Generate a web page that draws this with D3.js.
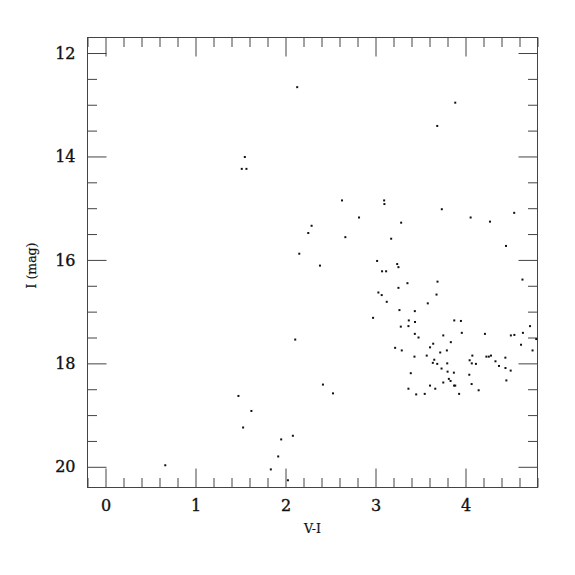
<!DOCTYPE html>
<html>
<head>
<meta charset="utf-8">
<script src="https://cdn.jsdelivr.net/npm/d3@7"></script>
<style>
  body { margin: 0; background: #fff; }
  svg { display: block; }
  .axis path { display: none; }
  .axis line { stroke: #444; stroke-width: 1; }
  .axis text { font-family: "DejaVu Serif", serif; font-size: 16px; fill: #111; stroke: #111; stroke-width: 0.35px; }
  .title { font-family: "DejaVu Serif", serif; font-size: 12.5px; fill: #111; stroke: #111; stroke-width: 0.2px; }
</style>
</head>
<body>
<div id="chart"></div>
<script>
const w = 450,
      h = 450;
const margin = {top: 37.5, right: 37.5, bottom: 87.5, left: 87.5};

// V-I colour and I magnitude of each star
const colorVI = [2.13, 3.886, 3.686, 1.548, 1.514, 1.566, 2.628, 3.096, 3.099, 3.737,
  4.541, 2.817, 4.057, 3.285, 4.272, 2.29, 2.253, 2.665, 3.174, 4.45,
  2.153, 3.018, 3.241, 3.255, 2.383, 3.073, 3.118, 4.633, 3.355, 3.689,
  3.255, 3.678, 3.032, 3.069, 3.125, 3.581, 3.266, 3.437, 2.973, 3.37,
  3.439, 3.281, 3.366, 3.437, 3.478, 2.108, 3.218, 3.292, 3.606, 3.433,
  3.569, 3.392, 3.606, 3.366, 3.452, 3.547, 2.416, 2.528, 3.875, 3.949,
  4.717, 3.753, 3.959, 4.216, 4.504, 4.543, 4.638, 4.786, 3.641, 3.837,
  4.617, 3.719, 3.793, 4.076, 4.232, 4.259, 4.283, 4.443, 4.745, 3.653,
  4.046, 4.333, 3.637, 3.686, 3.797, 4.07, 4.116, 4.372, 4.444, 3.734,
  4.502, 3.801, 3.871, 4.042, 4.454, 3.815, 3.834, 3.753, 4.068, 3.873,
  3.886, 3.664, 4.146, 3.929, 1.477, 1.621, 1.529, 2.082, 1.952, 1.919,
  1.837, 2.027, 0.664];
const magI = [12.66, 12.96, 13.41, 14.01, 14.24, 14.24, 14.85, 14.85, 14.92, 15.02,
  15.09, 15.18, 15.18, 15.28, 15.26, 15.34, 15.48, 15.56, 15.59, 15.73,
  15.88, 16.02, 16.08, 16.14, 16.11, 16.22, 16.22, 16.38, 16.45, 16.42,
  16.54, 16.67, 16.63, 16.68, 16.81, 16.84, 16.97, 16.99, 17.12, 17.17,
  17.2, 17.29, 17.28, 17.43, 17.5, 17.54, 17.7, 17.75, 17.69, 17.87,
  17.85, 18.19, 18.43, 18.49, 18.6, 18.59, 18.41, 18.58, 17.17, 17.18,
  17.28, 17.46, 17.41, 17.43, 17.46, 17.45, 17.41, 17.53, 17.62, 17.59,
  17.64, 17.79, 17.75, 17.85, 17.87, 17.87, 17.85, 17.89, 17.75, 17.93,
  17.94, 17.96, 17.99, 18.01, 18.0, 18.0, 18.01, 18.05, 18.09, 18.1,
  18.14, 18.16, 18.18, 18.22, 18.33, 18.3, 18.34, 18.37, 18.4, 18.43,
  18.43, 18.49, 18.52, 18.59, 18.63, 18.92, 19.24, 19.4, 19.47, 19.8,
  20.05, 20.26, 19.97];

const xMajor = [0, 1, 2, 3, 4];
const yMajor = [12, 14, 16, 18, 20];

const svg = d3.select("#chart")
  .append("svg")
  .attr("width", w + margin.left + margin.right)
  .attr("height", h + margin.top + margin.bottom)
  .append("g")
  .attr("transform", "translate(" + margin.left + "," + margin.top + ")");

let x = d3.scaleLinear().domain([-0.2, 4.8]).range([0, w]);
let y = d3.scaleLinear().domain([11.7, 20.4]).range([0, h]);

let xMinor = d3.range(-0.2, 4.81, 0.2).map(d => +d.toFixed(1)).filter(d => !xMajor.includes(d));
let yMinor = d3.range(12, 20.41, 0.5).filter(d => !yMajor.includes(d));

// major + minor ticks on all four sides, pointing inward
function addAxis(axisFn, scale, values, size, transform, labels) {
  let ax = axisFn(scale).tickValues(values).tickSizeInner(-size).tickSizeOuter(0)
    .tickPadding(labels ? 12 : 0)
    .tickFormat(labels ? d3.format("d") : "");
  svg.append("g").attr("class", "axis").attr("transform", transform).call(ax);
}

addAxis(d3.axisBottom, x, xMajor, 19, "translate(0," + h + ")", true);
addAxis(d3.axisBottom, x, xMinor, 9.5, "translate(0," + h + ")", false);
addAxis(d3.axisTop, x, xMajor, 19, "translate(0,0)", false);
addAxis(d3.axisTop, x, xMinor, 9.5, "translate(0,0)", false);
addAxis(d3.axisLeft, y, yMajor, 19, "translate(0,0)", true);
addAxis(d3.axisLeft, y, yMinor, 9.5, "translate(0,0)", false);
addAxis(d3.axisRight, y, yMajor, 19, "translate(" + w + ",0)", false);
addAxis(d3.axisRight, y, yMinor, 9.5, "translate(" + w + ",0)", false);

svg.append("rect")
  .attr("x", 0).attr("y", 0)
  .attr("width", w).attr("height", h)
  .style("fill", "none")
  .style("stroke", "#444")
  .style("stroke-width", 1);

let stars = colorVI.map((d, i) => [d, magI[i]]);

svg.selectAll(".star")
  .data(stars)
  .enter()
  .append("rect")
  .attr("class", "star")
  .attr("x", d => x(d[0]) - 1)
  .attr("y", d => y(d[1]) - 1)
  .attr("width", 2)
  .attr("height", 2)
  .style("fill", "#111");

svg.append("text")
  .attr("class", "title")
  .attr("x", w / 2)
  .attr("y", h + 45)
  .attr("text-anchor", "middle")
  .text("V-I");

svg.append("text")
  .attr("class", "title")
  .attr("transform", "translate(-52," + (h / 2 + 3) + ") rotate(-90)")
  .attr("text-anchor", "middle")
  .text("I (mag)");
</script>
</body>
</html>
